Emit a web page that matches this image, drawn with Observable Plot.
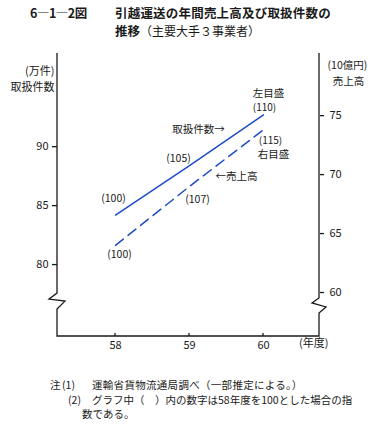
<!DOCTYPE html>
<html>
<head>
<meta charset="utf-8">
<script src="https://cdn.jsdelivr.net/npm/d3@7"></script>
<script src="https://cdn.jsdelivr.net/npm/@observablehq/plot@0.6"></script>
<style>
  html, body { margin: 0; padding: 0; background: #fff; }
  #wrap { position: relative; width: 382px; height: 438px; background: #fff; color: #1a1a1a;
          font-family: "Noto Sans CJK JP", "Noto Sans", sans-serif; overflow: hidden; }
  .abs { position: absolute; white-space: nowrap; }
  .t1 { font-size: 12.5px; line-height: 16px; font-weight: bold; }
  .t2 { font-size: 12px; line-height: 16px; }
  .n { font-size: 10.5px; line-height: 12px; }
</style>
</head>
<body>
<div id="wrap">
  <div class="abs t1" style="left:30px;top:5px;letter-spacing:-0.5px">6―1―2図</div>
  <div class="abs t1" style="left:115px;top:5px;letter-spacing:0.2px">引越運送の年間売上高及び取扱件数の</div>
  <div class="abs t2" style="left:115px;top:23px"><b style="font-size:12.5px">推移</b>（主要大手３事業者）</div>
  <div id="chart" class="abs" style="left:0;top:44px"></div>
  <div class="abs n" style="left:50px;top:379px">注</div>
  <div class="abs n" style="left:62px;top:379px">(1)</div>
  <div class="abs n" style="left:92px;top:379px;letter-spacing:0.3px">運輸省貨物流通局調べ（一部推定による。）</div>
  <div class="abs n" style="left:68px;top:394px">(2)</div>
  <div class="abs n" style="left:92px;top:394px">グラフ中（　）内の数字は58年度を100とした場合の指</div>
  <div class="abs n" style="left:82px;top:408px">数である。</div>
</div>
<script>
// ---- data ----
const years = [58, 59, 60];
const handled = [84.2, 88.4, 92.7];   // 取扱件数 (万件), left scale
const sales = [64.0, 69.0, 73.8];     // 売上高 (10億円), right scale
const handledIndex = ["(100)", "(105)", "(110)"];
const salesIndex = ["(100)", "(107)", "(115)"];
const leftTicks = [80, 85, 90];
const rightTicks = [60, 65, 70, 75];
const xTicks = [58, 59, 60];

// ---- layout / scale mapping ----
const rightOffset = 17.63;           // right-axis value + offset = left-axis value
const xDomain = [57.216, 60.757];
const yDomain = [73.9, 97.9];
const leftBreak = 76.86;              // left-axis units
const rightBreak = 58.9;              // right-axis units
const blue = "#1c4cc4";
const ink = "#1a1a1a";

const handledData = years.map((y, i) => ({year: y, v: handled[i], label: handledIndex[i]}));
const salesData = years.map((y, i) => ({year: y, v: sales[i] + rightOffset, label: salesIndex[i]}));

function frameMark(index, scales, values, dimensions) {
  const {x, y} = scales;
  const {width, height, marginLeft, marginRight, marginTop, marginBottom} = dimensions;
  const xl = marginLeft, xr = width - marginRight, yt = marginTop, yb = height - marginBottom;
  const bl = y(leftBreak), br = y(rightBreak + rightOffset);
  const d = `M${xl},${yt}V${bl - 8}L${xl - 8},${bl - 2}L${xl + 8},${bl}L${xl},${bl + 8}V${yb}H${xr}` +
            `V${br + 8}L${xr + 7},${br + 2}L${xr - 7},${br - 2}L${xr},${br - 7}V${yt}`;
  const g = d3.create("svg:g").attr("fill", "none").attr("stroke", ink).attr("stroke-width", 1.3);
  g.append("path").attr("d", d).attr("stroke-linejoin", "miter");
  g.append("path").attr("d", xTicks.map(t => `M${x(t)},${yb}v-3`).join(""));
  return g.node();
}

function labelAt(data, i, dx, dy, extra = {}) {
  return Plot.text([data[i]], {x: "year", y: "v", text: "label", dx, dy, fontSize: 10.5, fill: ink, ...extra});
}
function noteAt(data, i, txt, dx, dy, extra = {}) {
  return Plot.text([data[i]], {x: "year", y: "v", text: () => txt, dx, dy, fontSize: 10.5, fill: ink, ...extra});
}

const chart = Plot.plot({
  width: 382,
  height: 310,
  marginLeft: 57,
  marginRight: 63,
  marginTop: 9,
  marginBottom: 18,
  style: {fontFamily: "Noto Sans CJK JP, Noto Sans, sans-serif", background: "transparent", color: ink},
  x: {domain: xDomain},
  y: {domain: yDomain},
  marks: [
    frameMark,
    Plot.axisY({anchor: "left", ticks: leftTicks, tickSize: 5, tickPadding: 4, fontSize: 11, label: null, stroke: ink, strokeWidth: 1.3}),
    Plot.axisY({anchor: "right", ticks: rightTicks.map(t => t + rightOffset), tickFormat: d => String(Math.round(d - rightOffset)),
                tickSize: 4, tickPadding: 6, fontSize: 11, label: null, stroke: ink, strokeWidth: 1.3}),
    Plot.axisX({ticks: xTicks, tickSize: 0, tickPadding: 5, tickFormat: d => String(d), fontSize: 11, label: null}),
    Plot.line(handledData, {x: "year", y: "v", stroke: blue, strokeWidth: 1.5}),
    Plot.line(salesData, {x: "year", y: "v", stroke: blue, strokeWidth: 1.5, strokeDasharray: "10,6"}),
    labelAt(handledData, 0, -2, -16),
    labelAt(handledData, 1, -11, -7),
    labelAt(handledData, 2, 1, -7, {fontSize: 10}),
    labelAt(salesData, 0, 4, 9),
    labelAt(salesData, 1, 8, 13),
    labelAt(salesData, 2, 7, 11, {fontSize: 10}),
    noteAt(handledData, 2, "左目盛", 5, -21, {fontSize: 10.5}),
    noteAt(salesData, 2, "右目盛", 10, 25, {fontSize: 10.5}),
    noteAt(handledData, 1, "取扱件数→", 9, -36),
    noteAt(salesData, 1, "←売上高", 47, -10),
    Plot.text(["(万件)"], {frameAnchor: "top-left", text: d => d, textAnchor: "end", dx: -3, dy: 14, fontSize: 11, fill: ink}),
    Plot.text(["取扱件数"], {frameAnchor: "top-left", text: d => d, textAnchor: "end", dx: -3, dy: 30, fontSize: 11, fill: ink}),
    Plot.text(["(10億円)"], {frameAnchor: "top-right", text: d => d, textAnchor: "start", dx: 8, dy: 8, fontSize: 10.5, fill: ink}),
    Plot.text(["売上高"], {frameAnchor: "top-right", text: d => d, textAnchor: "middle", dx: 29, dy: 24, fontSize: 10.5, fill: ink}),
    Plot.text(["(年度)"], {frameAnchor: "bottom-right", text: d => d, textAnchor: "end", dx: 9, dy: 10, fontSize: 11, fill: ink})
  ]
});
document.getElementById("chart").appendChild(chart);
</script>
</body>
</html>
